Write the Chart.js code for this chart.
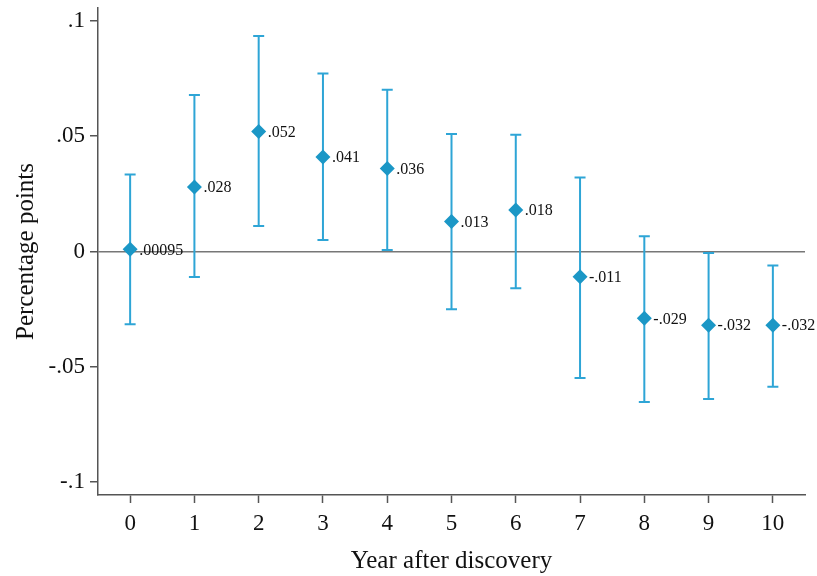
<!DOCTYPE html>
<html>
<head>
<meta charset="utf-8">
<script src="https://cdn.jsdelivr.net/npm/chart.js@4"></script>
<style>
html,body{margin:0;padding:0;background:#fff;}
#wrap{width:817px;height:576px;position:relative;}
</style>
</head>
<body>
<div id="wrap"><canvas id="c" width="817" height="576"></canvas></div>
<script>
const years = [0,1,2,3,4,5,6,7,8,9,10];
const estimates = [0.00095,0.028,0.052,0.041,0.036,0.013,0.018,-0.011,-0.029,-0.032,-0.032];
const pointLabels = [".00095",".028",".052",".041",".036",".013",".018","-.011","-.029","-.032","-.032"];
const ciUpper = [0.0334,0.0679,0.0935,0.0772,0.0701,0.0510,0.0506,0.0321,0.0066,-0.0007,-0.0061];
const ciLower = [-0.0315,-0.0111,0.0111,0.0050,0.0006,-0.0250,-0.0159,-0.0549,-0.0653,-0.0640,-0.0587];
const yTickValues = [-0.1,-0.05,0,0.05,0.1];
const yTickLabels = ["-.1","-.05","0",".05",".1"];
const xTickValues = years;

const markerColor = '#1b97c6';
const barColor = '#2ea5d6';
const serif = "'Liberation Serif', 'Times New Roman', serif";

const errorBarPlugin = {
  id: 'errorBars',
  beforeDatasetsDraw(chart) {
    const {ctx, scales:{x, y}} = chart;
    ctx.save();
    ctx.strokeStyle = barColor;
    ctx.lineWidth = 2;
    const cap = 5.5;
    years.forEach((yr, i) => {
      const px = x.getPixelForValue(yr);
      const pu = y.getPixelForValue(ciUpper[i]);
      const pl = y.getPixelForValue(ciLower[i]);
      ctx.beginPath();
      ctx.moveTo(px, pu); ctx.lineTo(px, pl);
      ctx.moveTo(px - cap, pu); ctx.lineTo(px + cap, pu);
      ctx.moveTo(px - cap, pl); ctx.lineTo(px + cap, pl);
      ctx.stroke();
    });
    ctx.restore();
  },
  afterDatasetsDraw(chart) {
    const {ctx, scales:{x, y}} = chart;
    ctx.save();
    ctx.fillStyle = '#111';
    ctx.font = "16px " + serif;
    ctx.textAlign = 'left';
    ctx.textBaseline = 'middle';
    years.forEach((yr, i) => {
      const px = x.getPixelForValue(yr);
      const py = y.getPixelForValue(estimates[i]);
      ctx.fillText(pointLabels[i], px + 9, py + 1);
    });
    ctx.restore();
  }
};

new Chart(document.getElementById('c'), {
  type: 'scatter',
  data: {
    datasets: [{
      data: years.map((yr, i) => ({x: yr, y: estimates[i]})),
      pointStyle: 'rectRot',
      pointRadius: 7.5,
      pointHoverRadius: 7.5,
      backgroundColor: markerColor,
      borderColor: markerColor,
      borderWidth: 0,
      showLine: false
    }]
  },
  options: {
    responsive: false,
    animation: false,
    events: [],
    layout: {padding: {left: 0, right: 12, top: 8, bottom: 0}},
    plugins: {legend: {display: false}, tooltip: {enabled: false}},
    scales: {
      x: {
        type: 'linear',
        min: -0.5,
        max: 10.5,
        afterBuildTicks: (axis) => { axis.ticks = xTickValues.map(v => ({value: v})); },
        afterFit: (scale) => { scale.height = 81; scale.paddingLeft = 0; scale.paddingRight = 0; },
        border: {display: true, color: '#555', width: 1.5},
        grid: {display: true, drawOnChartArea: false, drawTicks: true, tickLength: 8, tickColor: '#555', tickWidth: 1.5},
        ticks: {
          color: '#111',
          font: {family: serif, size: 23},
          padding: 7,
          maxRotation: 0,
          autoSkip: false,
          callback: (v) => String(v)
        },
        title: {
          display: true,
          text: 'Year after discovery',
          color: '#111',
          font: {family: serif, size: 25},
          padding: {top: 0, bottom: 0}
        }
      },
      y: {
        type: 'linear',
        min: -0.1056,
        max: 0.1056,
        afterBuildTicks: (axis) => { axis.ticks = yTickValues.map(v => ({value: v})); },
        afterFit: (scale) => { scale.width = 98; scale.paddingTop = 0; scale.paddingBottom = 0; },
        border: {display: true, color: '#555', width: 1.5},
        grid: {
          display: true,
          drawOnChartArea: true,
          drawTicks: true,
          tickLength: 8,
          tickColor: '#555',
          tickWidth: 1.5,
          lineWidth: 1.5,
          color: (ctx) => (ctx.tick && ctx.tick.value === 0) ? '#777' : 'rgba(0,0,0,0)'
        },
        ticks: {
          color: '#111',
          font: {family: serif, size: 23},
          padding: 5,
          autoSkip: false,
          callback: (v) => { const i = yTickValues.indexOf(v); return i >= 0 ? yTickLabels[i] : ''; }
        },
        title: {
          display: true,
          text: 'Percentage points',
          color: '#111',
          font: {family: serif, size: 25},
          padding: {top: 11, bottom: 0}
        }
      }
    }
  },
  plugins: [errorBarPlugin]
});
</script>
</body>
</html>
